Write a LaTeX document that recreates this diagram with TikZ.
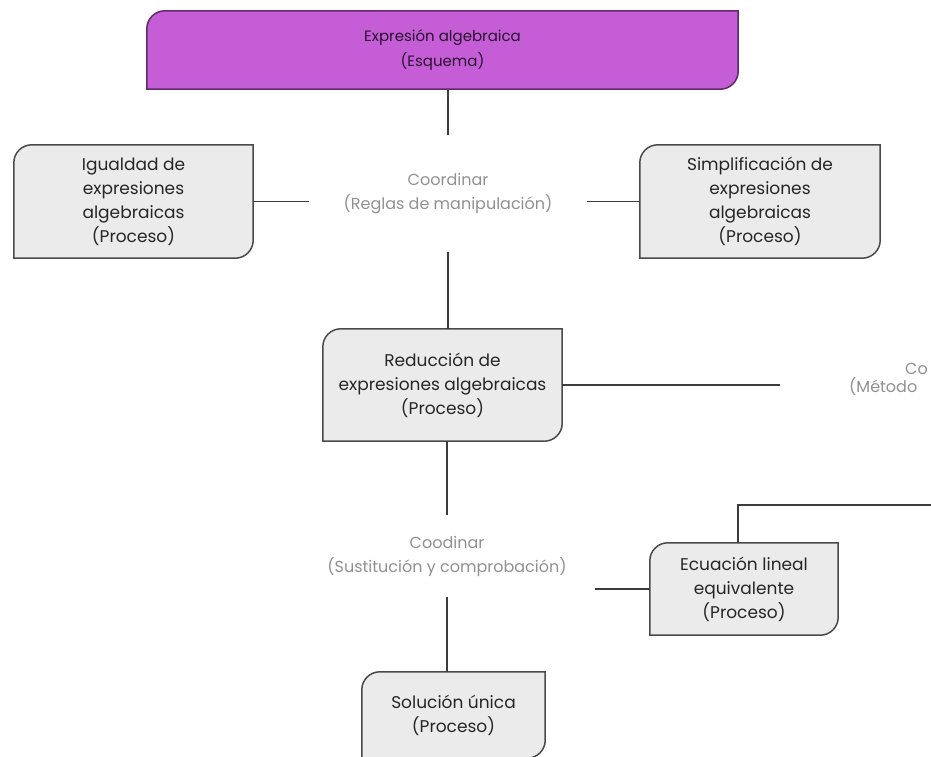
\documentclass[tikz,border=0pt]{standalone}
\usepackage{fontspec}
\setmainfont{Poppins}
\usetikzlibrary{backgrounds}
\definecolor{esqPurple}{HTML}{C45DD6}
\definecolor{esqEdge}{HTML}{5E2C66}
\definecolor{esqText}{HTML}{2A0F30}
\definecolor{procFill}{HTML}{EBEBEB}
\definecolor{procEdge}{HTML}{4A4A4A}
\definecolor{linkGray}{HTML}{909090}
\definecolor{wireDark}{HTML}{3C3C3C}
% frame with two round corners (top left, bottom right)
\newcommand{\cornerframe}[2]{%
  \filldraw[#1] (#2.south west) -- ([yshift=-18pt]#2.north west)
    arc[start angle=180, end angle=90, radius=18pt] -- (#2.north east)
    -- ([yshift=18pt]#2.south east)
    arc[start angle=0, end angle=-90, radius=18pt] -- cycle;}

\begin{document}
\begin{tikzpicture}[x=1pt, y=-1pt,
    box/.style={inner sep=0pt, align=center, text=black!85,
      font=\fontsize{17}{24}\selectfont},
    link/.style={inner sep=0pt, align=center, text=linkGray,
      font=\fontsize{16}{24}\selectfont},
    wire/.style={draw=wireDark, line width=1.4pt},
    esqframe/.style={fill=esqPurple, draw=esqEdge, line width=1.5pt},
    procframe/.style={fill=procFill, draw=procEdge, line width=1.5pt}]
  \useasboundingbox (0,0) rectangle (931,756);

  \node[box, text=esqText, font=\fontsize{15}{25}\selectfont, minimum width=591pt, minimum height=78pt] (expr) at (442.5,50) {Expresión algebraica\\(Esquema)};
  \node[link, minimum width=277pt, minimum height=117pt] (coord1) at (448,193.5) {Coordinar\\(Reglas de manipulación)};
  \node[box, minimum width=239pt, minimum height=113pt] (igual) at (133.5,201.5) {Igualdad de\\expresiones\\algebraicas\\(Proceso)};
  \node[box, minimum width=240pt, minimum height=113pt] (simpl) at (760,201.5) {Simplificación de\\expresiones\\algebraicas\\(Proceso)};
  \node[box, minimum width=239pt, minimum height=112pt] (reduc) at (442.5,385) {Reducción de\\expresiones algebraicas\\(Proceso)};
  \node[link, anchor=west, align=left, font=\fontsize{16}{18}\selectfont] (metodo) at (849,379) {\hspace{56pt}Co\\(Método};
  \node[link, minimum width=296pt, minimum height=82pt] (coord2) at (447,556) {Coodinar\\(Sustitución y comprobación)};
  \node[box, minimum width=188pt, minimum height=92pt] (ecuac) at (744,589) {Ecuación lineal\\equivalente\\(Proceso)};
  \node[box, minimum width=183pt, minimum height=86pt] (solun) at (453.5,715) {Solución única\\(Proceso)};
  \coordinate (metEnd) at (780,0);
  \coordinate (offR) at (940,505);

  \begin{scope}[on background layer]
    \cornerframe{esqframe}{expr}
    \foreach \n in {igual, simpl, reduc, ecuac, solun}
      {\cornerframe{procframe}{\n}}
  \end{scope}

  \draw[wire] (coord1.north |- expr.south) -- (coord1.north);
  \draw[wire] (igual.east) -- (igual.east -| coord1.west);
  \draw[wire] (simpl.west) -- (simpl.west -| coord1.east);
  \draw[wire] (coord1.south) -- (coord1.south |- reduc.north);
  \draw[wire] (reduc.east) -- (reduc.east -| metEnd);
  \draw[wire] (coord2.north |- reduc.south) -- (coord2.north);
  \draw[wire] (coord2.south) -- (coord2.south |- solun.north);
  \draw[wire] (ecuac.west) -- (ecuac.west -| coord2.east);
  \draw[wire] ([xshift=-6pt]ecuac.north) |- (offR);
\end{tikzpicture}
\end{document}
